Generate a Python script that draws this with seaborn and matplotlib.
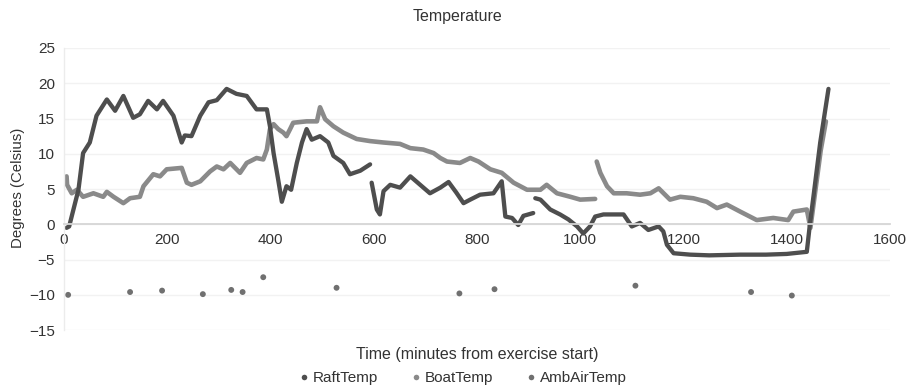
import numpy as np
import pandas as pd
import seaborn as sns
import matplotlib.pyplot as plt
from matplotlib.lines import Line2D

# ---- data ----
raft_t = [5, 10, 28, 37, 50, 63, 83, 99, 115, 134, 147, 163, 180, 192, 212, 228, 234, 247, 264, 280,
          296, 315, 334, 354, 373, 393, 399, 406, 415, 422, 431, 440, 451, 461, 470, 480, 496, 512, 522, 541,
          554, 574, 593,
          596, 606, 612, 619, 632, 651, 671, 690, 709, 729, 745, 760, 774, 787, 806, 832, 848, 855, 868, 880,
          890, 909,
          913, 923, 942, 961, 977, 994, 1006, 1019, 1029, 1045, 1064, 1084, 1100, 1116, 1132, 1152, 1161,
          1168, 1181, 1213, 1250, 1310, 1360, 1400, 1439, 1445, 1452, 1465, 1481]
raft_v = [-0.5, -0.3, 4.9, 10.1, 11.6, 15.4, 17.7, 16.1, 18.2, 15.1, 15.6, 17.5, 16.3, 17.5, 15.4, 11.6,
          12.6, 12.5, 15.4, 17.3, 17.6, 19.2, 18.5, 18.2, 16.3, 16.3, 13.9, 10.1, 6.3, 3.2, 5.4, 4.9, 8.7,
          11.6, 13.5, 12.0, 12.5, 11.6, 9.7, 8.7, 7.1, 7.6, 8.5,
          5.9, 2.1, 1.4, 4.7, 5.6, 5.2, 6.8, 5.6, 4.4, 5.2, 6.0, 4.5, 3.0, 3.5, 4.2, 4.4, 6.1, 1.1, 0.9,
          -0.1, 1.2, 1.6,
          3.7, 3.5, 2.1, 1.4, 0.7, -0.3, -1.3, -0.3, 1.1, 1.4, 1.4, 1.4, -0.3, 0.2, -0.8, -0.3, -1.0,
          -2.9, -4.1, -4.3, -4.4, -4.3, -4.3, -4.2, -3.9, 0.0, 4.0, 11.6, 19.2]
raft_breaks = [596, 913]   # start times of segments after a gap in the trace

boat_t = [5, 6, 15, 25, 37, 57, 76, 83, 96, 115, 128, 147, 154, 173, 186, 199, 228, 238, 247, 264,
          283, 296, 309, 322, 341, 354, 373, 386, 393, 399, 406, 415, 425, 431, 438, 444, 470, 490, 496, 506,
          522, 541, 567, 593, 619, 651, 671, 696, 716, 729, 742, 767, 787, 803, 826, 848, 871, 897, 923, 935,
          955, 981, 1000, 1029,
          1032, 1039, 1052, 1065, 1090, 1116, 1136, 1152, 1174, 1194, 1219, 1245, 1265, 1284, 1310, 1342,
          1374, 1403, 1413, 1439, 1446, 1456, 1466, 1476]
boat_v = [6.8, 5.6, 4.4, 4.9, 3.9, 4.4, 3.9, 4.6, 3.9, 3.0, 3.7, 3.9, 5.4, 7.1, 6.8, 7.8, 8.0, 5.9, 5.6, 6.1,
          7.5, 8.2, 7.8, 8.7, 7.3, 8.7, 9.4, 9.2, 10.6, 13.5, 14.2, 13.5, 13.0, 12.5, 13.5, 14.4, 14.6, 14.6,
          16.6, 14.9, 13.9, 13.0, 12.1, 11.8, 11.6, 11.4, 10.8, 10.6, 10.1, 9.4, 8.9, 8.7, 9.4, 8.9, 7.8,
          7.3, 5.9, 4.9, 4.9, 5.6, 4.4, 3.9, 3.5, 3.6,
          8.9, 7.3, 5.4, 4.4, 4.4, 4.2, 4.4, 5.1, 3.5, 3.9, 3.7, 3.2, 2.3, 2.8, 1.8, 0.6, 0.9, 0.6, 1.8,
          2.1, -0.5, 5.0, 10.5, 14.6]
boat_breaks = [1032]

amb_t = [8, 128, 190, 269, 324, 346, 386, 528, 766, 834, 1107, 1331, 1410]
amb_v = [-10.0, -9.6, -9.4, -9.9, -9.3, -9.6, -7.5, -9.0, -9.8, -9.2, -8.7, -9.6, -10.1]

x_ticks = [0, 200, 400, 600, 800, 1000, 1200, 1400, 1600]
y_ticks = [-15, -10, -5, 0, 5, 10, 15, 20, 25]
series_names = ["RaftTemp", "BoatTemp", "AmbAirTemp"]

# ---- style ----
sns.set_theme(style="white")
plt.rcParams["font.family"] = ["Liberation Sans", "DejaVu Sans"]

c_raft = "#4e4e4e"
c_boat = "#8a8a8a"
c_amb = "#707070"
c_text = "#333333"

raft = pd.DataFrame({"t": raft_t, "v": raft_v})
raft["seg"] = np.searchsorted(raft_breaks, raft["t"], side="right")
boat = pd.DataFrame({"t": boat_t, "v": boat_v})
boat["seg"] = np.searchsorted(boat_breaks, boat["t"], side="right")
amb = pd.DataFrame({"t": amb_t, "v": amb_v})

fig = plt.figure(figsize=(9.09, 3.87), dpi=100)
ax = fig.add_axes([0.0704, 0.147, 0.9086, 0.729])

sns.lineplot(data=boat, x="t", y="v", units="seg", estimator=None, sort=False,
             color=c_boat, lw=3.3, ax=ax, legend=False)
sns.lineplot(data=raft, x="t", y="v", units="seg", estimator=None, sort=False,
             color=c_raft, lw=3.1, ax=ax, legend=False)
sns.scatterplot(data=amb, x="t", y="v", color=c_amb, s=18, edgecolor="none", ax=ax, legend=False)

ax.set_xlim(0, 1600)
ax.set_ylim(-15, 25)
ax.set_xticks(x_ticks)
ax.set_yticks(y_ticks)
ax.set_xlabel("")
ax.set_ylabel("")
ax.grid(axis="y", color="#f2f2f2", lw=1)
ax.set_axisbelow(True)
for s in ["top", "right"]:
    ax.spines[s].set_visible(False)
ax.spines["bottom"].set_position(("data", 0))
ax.spines["bottom"].set_color("#d6d6d6")
ax.spines["bottom"].set_linewidth(1.3)
ax.spines["left"].set_color("#ececec")
ax.spines["left"].set_linewidth(1.0)
ax.tick_params(axis="both", length=0, labelsize=11, labelcolor=c_text)
ax.tick_params(axis="x", pad=6)
ax.tick_params(axis="y", pad=6.5)

fig.text(0.503, 1 - 17 / 387, "Temperature", ha="center", va="center", fontsize=11.5, color=c_text)
fig.text(477 / 909, 1 - 354 / 387, "Time (minutes from exercise start)", ha="center", va="center",
         fontsize=11.5, color=c_text)
fig.text(18 / 909, 1 - 188 / 387, "Degrees (Celsius)", ha="center", va="center", rotation=90,
         fontsize=10.8, color=c_text)

handles = [Line2D([], [], ls="none", marker="o", ms=4, color=c, mec="none")
           for c in (c_raft, c_boat, c_amb)]
fig.legend(handles, series_names, loc="center", bbox_to_anchor=(462 / 909, 1 - 378 / 387), ncol=3,
           frameon=False, fontsize=11, handletextpad=0.15, columnspacing=2.0, handlelength=0.9,
           labelcolor=c_text, borderpad=0, borderaxespad=0)

fig.savefig("out.png", dpi=100)
